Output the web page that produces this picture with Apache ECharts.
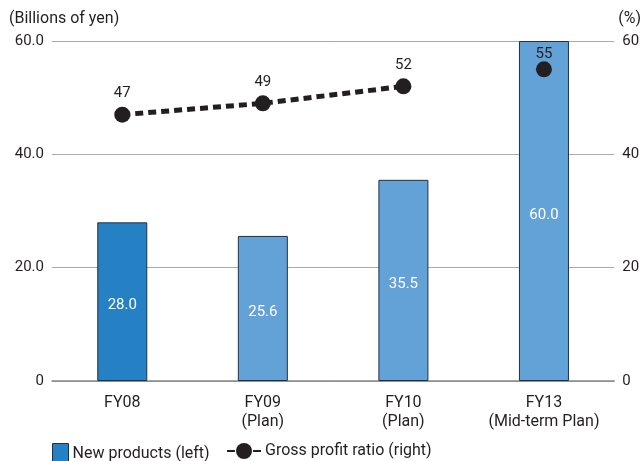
<!DOCTYPE html>
<html>
<head>
<meta charset="utf-8">
<script src="https://cdn.jsdelivr.net/npm/echarts@6/dist/echarts.min.js"></script>
<style>
  html, body { margin: 0; padding: 0; background: #fff; }
  #chart { width: 644px; height: 461px; }
</style>
</head>
<body>
<div id="chart"></div>
<script>
// Fiscal years shown on the category axis
const categories = ['FY08', 'FY09\n(Plan)', 'FY10\n(Plan)', 'FY13\n(Mid-term Plan)'];
// New products sales, billions of yen (left axis)
const newProducts = [28.0, 25.6, 35.5, 60.0];
// Gross profit ratio, % (right axis); the mid-term plan point stands alone
const grossProfitLine = [47, 49, 52, '-'];
const grossProfitPlan = ['-', '-', '-', 55];
// Axis ticks
const leftTicks = [0, 20, 40, 60];
const rightTicks = [0, 20, 40, 60];

const FONT = 'Roboto';
const TEXT = '#231f20';
const actualColor = '#2581c4';
const planColor = '#62a2d7';
const dotColor = '#231f20';

const chart = echarts.init(document.getElementById('chart'));

chart.setOption({
  animation: false,
  textStyle: { fontFamily: FONT },
  grid: { left: 52, right: 27, top: 41, bottom: 80 },
  legend: [
    {
      left: 52,
      top: 443,
      padding: 0,
      itemWidth: 16,
      itemHeight: 20,
      textStyle: { fontFamily: FONT, fontSize: 16, color: TEXT, padding: [0, 0, 0, -1] },
      data: [
        { name: 'New products (left)', icon: 'rect', itemStyle: { color: actualColor, borderColor: '#23313f', borderWidth: 1 } }
      ]
    },
    {
      left: 226,
      top: 443,
      padding: 0,
      itemWidth: 34,
      itemHeight: 20,
      textStyle: { fontFamily: FONT, fontSize: 16, color: TEXT, padding: [0, 0, 0, -1] },
      data: [{ name: 'Gross profit ratio (right)' }]
    }
  ],
  xAxis: {
    type: 'category',
    data: categories,
    axisLine: { lineStyle: { color: '#888', width: 1.5 } },
    axisTick: { show: false },
    axisLabel: { interval: 0, color: TEXT, fontSize: 16, lineHeight: 19, margin: 12, fontFamily: FONT }
  },
  yAxis: [
    {
      type: 'value',
      min: leftTicks[0],
      max: leftTicks[leftTicks.length - 1],
      interval: leftTicks[1] - leftTicks[0],
      name: '(Billions of yen)',
      nameLocation: 'end',
      nameGap: 14,
      nameTextStyle: { color: TEXT, fontSize: 16, align: 'left', padding: [0, 0, 0, -43] },
      axisLine: { show: false },
      axisTick: { show: false },
      splitLine: { lineStyle: { color: '#aaa', width: 1 } },
      axisLabel: {
        color: TEXT, fontSize: 15, margin: 8,
        formatter: v => (v === 0 ? '0' : v.toFixed(1))
      }
    },
    {
      type: 'value',
      min: rightTicks[0],
      max: rightTicks[rightTicks.length - 1],
      interval: rightTicks[1] - rightTicks[0],
      name: '(%)',
      nameLocation: 'end',
      nameGap: 14,
      nameTextStyle: { color: TEXT, fontSize: 16, align: 'left', padding: [0, 0, 0, 4] },
      axisLine: { show: false },
      axisTick: { show: false },
      splitLine: { show: false },
      axisLabel: { color: TEXT, fontSize: 15, margin: 8 }
    }
  ],
  series: [
    {
      name: 'New products (left)',
      type: 'bar',
      yAxisIndex: 0,
      barWidth: 50,
      data: newProducts.map((v, i) => ({
        value: v,
        itemStyle: { color: i === 0 ? actualColor : planColor }
      })),
      itemStyle: { borderColor: '#23313f', borderWidth: 1 },
      label: {
        show: true,
        position: 'inside',
        offset: [0, 4],
        color: '#fff',
        fontSize: 15,
        fontFamily: FONT,
        formatter: p => p.value.toFixed(1)
      },
      z: 2
    },
    {
      name: 'Gross profit ratio (right)',
      type: 'line',
      yAxisIndex: 1,
      data: grossProfitLine,
      symbol: 'circle',
      symbolSize: 16,
      itemStyle: { color: dotColor },
      lineStyle: { color: dotColor, width: 5, type: [8, 5] },
      label: {
        show: true,
        position: 'top',
        distance: 6,
        color: TEXT,
        fontSize: 15,
        fontFamily: FONT
      },
      z: 3
    },
    {
      name: 'Gross profit ratio (right)',
      type: 'line',
      yAxisIndex: 1,
      data: grossProfitPlan,
      symbol: 'circle',
      symbolSize: 16,
      showAllSymbol: true,
      itemStyle: { color: dotColor },
      lineStyle: { color: dotColor, width: 5, type: [8, 5] },
      label: {
        show: true,
        position: 'top',
        distance: 0,
        color: TEXT,
        fontSize: 15,
        fontFamily: FONT
      },
      z: 3
    }
  ]
});
</script>
</body>
</html>
